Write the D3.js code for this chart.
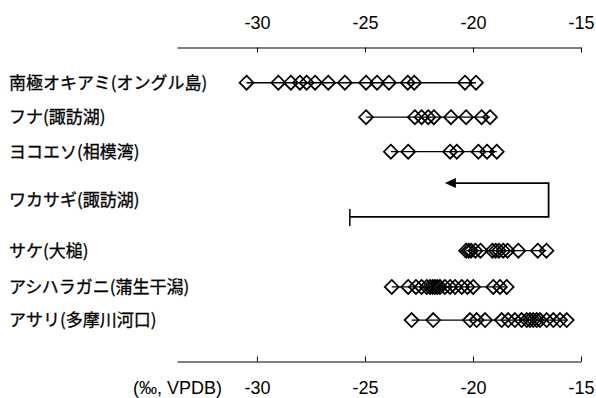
<!DOCTYPE html>
<html>
<head>
<meta charset="utf-8">
<script src="https://cdn.jsdelivr.net/npm/d3@7"></script>
<style>
  html, body { margin: 0; padding: 0; background: #fff; }
</style>
</head>
<body>
<div id="chart"></div>
<script>
// ── data ─────────────────────────────────────────
const species = [
  '南極オキアミ(オングル島)',
  'フナ(諏訪湖)',
  'ヨコエソ(相模湾)',
  'ワカサギ(諏訪湖)',
  'サケ(大槌)',
  'アシハラガニ(蒲生干潟)',
  'アサリ(多摩川河口)'
];
// vertical slot of each row (rows are not evenly spaced in the figure)
const rowSlot = [0, 1, 2, 3.4, 4.87, 5.92, 6.88];

const okiami = [-30.48, -29.01, -28.43, -28.01, -27.70, -27.31, -26.70, -25.93,
  -24.95, -24.44, -23.89, -23.02, -22.72, -20.37, -19.86];
const funa = [-24.95, -22.69, -22.38, -22.07, -21.81, -21.02, -20.32, -19.60, -19.21];
const yokoeso = [-23.80, -23.00, -21.06, -20.75, -19.75, -19.35, -18.90];
const sake = [-20.32, -20.20, -20.09, -19.89, -19.65, -19.10, -18.95, -18.80,
  -18.60, -18.40, -17.90, -17.00, -16.60];
const ashihara = [-23.76, -23.00, -22.64, -22.38, -22.14, -21.99, -21.87, -21.76,
  -21.65, -21.53, -21.30, -21.06, -20.83, -20.52, -20.26, -19.99, -19.06, -18.75, -18.44];
const asari = [-22.84, -21.84, -20.14, -19.83, -19.44, -18.67, -18.37, -18.06, -17.75,
  -17.51, -17.36, -17.21, -17.05, -16.90, -16.59, -16.28, -15.97, -15.66];

// ワカサギ: range bar and arrow (start, turn, arrow tip)
const wakasagi = { from: -25.7, turn: -16.5, to: -21.3 };

const seriesByRow = [okiami, funa, yokoeso, null, sake, ashihara, asari];

const xDomain = [-33.7, -15];
const tickVals = [-30, -25, -20, -15];
const unitLabel = '(‰, VPDB)';

// ── layout ───────────────────────────────────────
const W = 596, H = 398;
const axisTopY = 47.5, axisBotY = 361.5;

const x = d3.scaleLinear().domain(xDomain).range([177, 581]);
const y = d3.scaleLinear().domain([0, 1]).range([82.7, 117.2]);

const svg = d3.select('#chart').append('svg')
  .attr('width', W).attr('height', H)
  .attr('viewBox', `0 0 ${W} ${H}`);

const tickFont = sel => sel.selectAll('text')
  .attr('font-family', '"Liberation Sans", Arial, sans-serif')
  .attr('font-size', 18)
  .attr('fill', '#000');

// top axis
svg.append('g')
  .attr('transform', `translate(0,${axisTopY})`)
  .call(d3.axisTop(x).tickValues(tickVals).tickFormat(d => String(d))
    .tickSizeInner(-5).tickSizeOuter(0).tickPadding(19))
  .call(g => g.select('.domain').attr('stroke-width', 1.2))
  .call(tickFont);

// bottom axis
svg.append('g')
  .attr('transform', `translate(0,${axisBotY})`)
  .call(d3.axisBottom(x).tickValues(tickVals).tickFormat(d => String(d))
    .tickSizeInner(-5).tickSizeOuter(0).tickPadding(20))
  .call(g => g.select('.domain').attr('stroke-width', 1.2))
  .call(tickFont);

svg.append('text')
  .attr('x', 222).attr('y', axisBotY + 20).attr('dy', '0.71em')
  .attr('text-anchor', 'end')
  .attr('font-family', '"Liberation Sans", Arial, sans-serif')
  .attr('font-size', 18)
  .text(unitLabel);

// row labels
svg.append('g').selectAll('text')
  .data(species)
  .join('text')
    .attr('x', 9)
    .attr('y', (d, i) => y(rowSlot[i]))
    .attr('dy', '0.36em')
    .attr('font-family', '"Noto Sans CJK JP", sans-serif')
    .attr('font-size', 17)
    .attr('fill', '#000')
    .attr('stroke', '#000')
    .attr('stroke-width', 0.3)
    .text(d => d);

// ranges + diamonds
const R = 7;
const diamond = `M0,${-R}L${R},0L0,${R}L${-R},0Z`;

seriesByRow.forEach((vals, i) => {
  if (!vals) return;
  const cy = y(rowSlot[i]);
  const g = svg.append('g');
  g.append('line')
    .attr('x1', x(d3.min(vals))).attr('x2', x(d3.max(vals)))
    .attr('y1', cy).attr('y2', cy)
    .attr('stroke', '#000').attr('stroke-width', i === 0 ? 1.6 : 1.2);
  g.selectAll('path')
    .data(vals)
    .join('path')
      .attr('d', diamond)
      .attr('transform', d => `translate(${x(d)},${cy})`)
      .attr('fill', 'none')
      .attr('stroke', '#000')
      .attr('stroke-width', 1.7);
});

// ワカサギ: bar with end tick, then arrow back
const wi = species.indexOf('ワカサギ(諏訪湖)');
const yLow = y(rowSlot[wi] + 0.49);
const yHigh = y(rowSlot[wi] - 0.49);

svg.append('path')
  .attr('d', d3.line()([
    [x(wakasagi.from), yLow],
    [x(wakasagi.turn), yLow],
    [x(wakasagi.turn), yHigh],
    [x(wakasagi.to) + 9, yHigh]
  ]))
  .attr('fill', 'none')
  .attr('stroke', '#000')
  .attr('stroke-width', 1.8);

// arrowhead
const ax = x(wakasagi.to);
svg.append('path')
  .attr('d', `M${ax},${yHigh}L${ax + 11},${yHigh - 5}L${ax + 11},${yHigh + 5}Z`)
  .attr('fill', '#000');

// end tick of the bar
svg.append('line')
  .attr('x1', x(wakasagi.from)).attr('x2', x(wakasagi.from))
  .attr('y1', yLow - 8).attr('y2', yLow + 9)
  .attr('stroke', '#000').attr('stroke-width', 1.5);
</script>
</body>
</html>
